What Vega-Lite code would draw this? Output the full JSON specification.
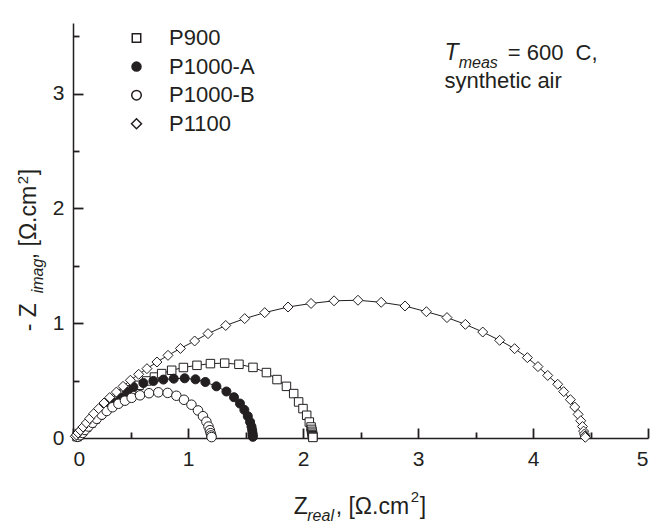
{
  "$schema": "https://vega.github.io/schema/vega-lite/v6.json",
  "width": 575,
  "height": 415,
  "autosize": "none",
  "padding": {"left": 73, "top": 23, "right": 6, "bottom": 85},
  "background": "white",
  "config": {"view": {"stroke": null}, "font": "Liberation Sans"},
  "resolve": {"axis": {"x": "independent", "y": "independent"}},
  "datasets": {
    "z": [
      {"s":"P900","x":0.035,"y":0.012},{"s":"P900","x":0.047,"y":0.024},{"s":"P900","x":0.06,"y":0.04},{"s":"P900","x":0.082,"y":0.061},{"s":"P900","x":0.119,"y":0.096},{"s":"P900","x":0.157,"y":0.13},{"s":"P900","x":0.191,"y":0.163},{"s":"P900","x":0.226,"y":0.198},{"s":"P900","x":0.264,"y":0.233},{"s":"P900","x":0.307,"y":0.27},{"s":"P900","x":0.351,"y":0.305},{"s":"P900","x":0.4,"y":0.343},{"s":"P900","x":0.452,"y":0.387},{"s":"P900","x":0.51,"y":0.421},{"s":"P900","x":0.574,"y":0.459},{"s":"P900","x":0.641,"y":0.497},{"s":"P900","x":0.708,"y":0.531},{"s":"P900","x":0.771,"y":0.561},{"s":"P900","x":0.858,"y":0.59},{"s":"P900","x":0.96,"y":0.614},{"s":"P900","x":1.078,"y":0.633},{"s":"P900","x":1.195,"y":0.648},{"s":"P900","x":1.319,"y":0.652},{"s":"P900","x":1.443,"y":0.642},{"s":"P900","x":1.565,"y":0.615},{"s":"P900","x":1.682,"y":0.57},{"s":"P900","x":1.774,"y":0.509},{"s":"P900","x":1.856,"y":0.45},{"s":"P900","x":1.919,"y":0.387},{"s":"P900","x":1.962,"y":0.314},{"s":"P900","x":2.0,"y":0.256},{"s":"P900","x":2.032,"y":0.198},{"s":"P900","x":2.055,"y":0.139},{"s":"P900","x":2.07,"y":0.096},{"s":"P900","x":2.074,"y":0.075},{"s":"P900","x":2.078,"y":0.058},{"s":"P900","x":2.08,"y":0.042},{"s":"P900","x":2.082,"y":0.03},{"s":"P900","x":2.084,"y":0.02},{"s":"P900","x":2.085,"y":0.012},{"s":"P900","x":2.086,"y":0.005},
      {"s":"P1000-A","x":0.035,"y":0.01},{"s":"P1000-A","x":0.055,"y":0.03},{"s":"P1000-A","x":0.08,"y":0.055},{"s":"P1000-A","x":0.105,"y":0.08},{"s":"P1000-A","x":0.135,"y":0.11},{"s":"P1000-A","x":0.17,"y":0.145},{"s":"P1000-A","x":0.21,"y":0.18},{"s":"P1000-A","x":0.255,"y":0.22},{"s":"P1000-A","x":0.305,"y":0.26},{"s":"P1000-A","x":0.36,"y":0.305},{"s":"P1000-A","x":0.415,"y":0.35},{"s":"P1000-A","x":0.47,"y":0.4},{"s":"P1000-A","x":0.525,"y":0.444},{"s":"P1000-A","x":0.612,"y":0.479},{"s":"P1000-A","x":0.699,"y":0.497},{"s":"P1000-A","x":0.786,"y":0.509},{"s":"P1000-A","x":0.876,"y":0.517},{"s":"P1000-A","x":0.971,"y":0.52},{"s":"P1000-A","x":1.065,"y":0.511},{"s":"P1000-A","x":1.151,"y":0.488},{"s":"P1000-A","x":1.247,"y":0.45},{"s":"P1000-A","x":1.334,"y":0.405},{"s":"P1000-A","x":1.4,"y":0.355},{"s":"P1000-A","x":1.452,"y":0.3},{"s":"P1000-A","x":1.49,"y":0.245},{"s":"P1000-A","x":1.52,"y":0.19},{"s":"P1000-A","x":1.54,"y":0.14},{"s":"P1000-A","x":1.552,"y":0.1},{"s":"P1000-A","x":1.558,"y":0.07},{"s":"P1000-A","x":1.561,"y":0.045},{"s":"P1000-A","x":1.563,"y":0.025},{"s":"P1000-A","x":1.564,"y":0.01},
      {"s":"P1000-B","x":0.04,"y":0.01},{"s":"P1000-B","x":0.061,"y":0.024},{"s":"P1000-B","x":0.082,"y":0.044},{"s":"P1000-B","x":0.104,"y":0.07},{"s":"P1000-B","x":0.134,"y":0.1},{"s":"P1000-B","x":0.169,"y":0.132},{"s":"P1000-B","x":0.206,"y":0.167},{"s":"P1000-B","x":0.25,"y":0.203},{"s":"P1000-B","x":0.293,"y":0.235},{"s":"P1000-B","x":0.343,"y":0.268},{"s":"P1000-B","x":0.395,"y":0.298},{"s":"P1000-B","x":0.452,"y":0.325},{"s":"P1000-B","x":0.51,"y":0.35},{"s":"P1000-B","x":0.583,"y":0.372},{"s":"P1000-B","x":0.661,"y":0.39},{"s":"P1000-B","x":0.742,"y":0.398},{"s":"P1000-B","x":0.823,"y":0.393},{"s":"P1000-B","x":0.899,"y":0.368},{"s":"P1000-B","x":0.965,"y":0.333},{"s":"P1000-B","x":1.03,"y":0.29},{"s":"P1000-B","x":1.087,"y":0.24},{"s":"P1000-B","x":1.13,"y":0.19},{"s":"P1000-B","x":1.16,"y":0.142},{"s":"P1000-B","x":1.178,"y":0.1},{"s":"P1000-B","x":1.19,"y":0.068},{"s":"P1000-B","x":1.197,"y":0.042},{"s":"P1000-B","x":1.202,"y":0.022},{"s":"P1000-B","x":1.205,"y":0.008},
      {"s":"P1100","x":0.02,"y":0.015},{"s":"P1100","x":0.03,"y":0.026},{"s":"P1100","x":0.044,"y":0.044},{"s":"P1100","x":0.064,"y":0.067},{"s":"P1100","x":0.087,"y":0.096},{"s":"P1100","x":0.116,"y":0.131},{"s":"P1100","x":0.145,"y":0.169},{"s":"P1100","x":0.18,"y":0.212},{"s":"P1100","x":0.223,"y":0.256},{"s":"P1100","x":0.27,"y":0.305},{"s":"P1100","x":0.319,"y":0.352},{"s":"P1100","x":0.377,"y":0.4},{"s":"P1100","x":0.435,"y":0.45},{"s":"P1100","x":0.499,"y":0.503},{"s":"P1100","x":0.571,"y":0.555},{"s":"P1100","x":0.643,"y":0.604},{"s":"P1100","x":0.73,"y":0.662},{"s":"P1100","x":0.826,"y":0.72},{"s":"P1100","x":0.934,"y":0.78},{"s":"P1100","x":1.058,"y":0.845},{"s":"P1100","x":1.174,"y":0.909},{"s":"P1100","x":1.328,"y":0.98},{"s":"P1100","x":1.493,"y":1.04},{"s":"P1100","x":1.667,"y":1.092},{"s":"P1100","x":1.87,"y":1.141},{"s":"P1100","x":2.07,"y":1.172},{"s":"P1100","x":2.27,"y":1.195},{"s":"P1100","x":2.478,"y":1.2},{"s":"P1100","x":2.68,"y":1.182},{"s":"P1100","x":2.887,"y":1.15},{"s":"P1100","x":3.073,"y":1.1},{"s":"P1100","x":3.252,"y":1.049},{"s":"P1100","x":3.412,"y":0.99},{"s":"P1100","x":3.563,"y":0.923},{"s":"P1100","x":3.71,"y":0.851},{"s":"P1100","x":3.84,"y":0.778},{"s":"P1100","x":3.951,"y":0.7},{"s":"P1100","x":4.043,"y":0.622},{"s":"P1100","x":4.128,"y":0.545},{"s":"P1100","x":4.215,"y":0.468},{"s":"P1100","x":4.267,"y":0.404},{"s":"P1100","x":4.325,"y":0.334},{"s":"P1100","x":4.363,"y":0.27},{"s":"P1100","x":4.392,"y":0.206},{"s":"P1100","x":4.415,"y":0.15},{"s":"P1100","x":4.43,"y":0.1},{"s":"P1100","x":4.44,"y":0.06},{"s":"P1100","x":4.447,"y":0.035},{"s":"P1100","x":4.452,"y":0.018},{"s":"P1100","x":4.455,"y":0.006}
    ]
  },
  "layer": [
    {
      "data": {"name": "z"},
      "mark": {"type": "line", "stroke": "#231f20", "strokeWidth": 1},
      "encoding": {
        "x": {"field": "x", "type": "quantitative", "scale": {"domain": [0, 5], "nice": false, "zero": false},
          "axis": {"orient": "bottom", "title": null, "grid": false, "values": [0,1,2,3,4,5],
            "format": "d", "ticks": true, "tickSize": -10,
            "labelPadding": 20, "labelFontSize": 21, "labelFont": "Liberation Sans", "labelColor": "#231f20",
            "domainColor": "#231f20", "domainWidth": 1.5, "tickColor": "#231f20", "tickWidth": 1.8}},
        "y": {"field": "y", "type": "quantitative", "scale": {"domain": [0, 3.615], "nice": false, "zero": false},
          "axis": {"orient": "left", "title": null, "grid": false, "values": [0,1,2,3],
            "format": "d", "ticks": true, "tickSize": -10,
            "labelPadding": 19, "labelFontSize": 21, "labelFont": "Liberation Sans", "labelColor": "#231f20",
            "domainColor": "#231f20", "domainWidth": 1.5, "tickColor": "#231f20", "tickWidth": 1.8}},
        "detail": {"field": "s"}
      }
    },
    {
      "data": {"name": "z"},
      "mark": {"type": "point", "filled": true, "stroke": "#231f20", "strokeWidth": 1, "opacity": 1},
      "encoding": {
        "x": {"field": "x", "type": "quantitative",
          "axis": {"orient": "bottom", "title": null, "grid": false, "values": [0.5,1.5,2.5,3.5,4.5], "labels": false, "domain": false,
            "ticks": true, "tickSize": -6, "tickColor": "#231f20", "tickWidth": 1.8}},
        "y": {"field": "y", "type": "quantitative",
          "axis": {"orient": "left", "title": null, "grid": false, "values": [0.5,1.5,2.5,3.5], "labels": false, "domain": false,
            "ticks": true, "tickSize": -6, "tickColor": "#231f20", "tickWidth": 1.8}},
        "shape": {"field": "s", "type": "nominal",
          "scale": {"domain": ["P900","P1000-A","P1000-B","P1100"], "range": ["square","circle","circle","diamond"]},
          "legend": {"orient": "none", "legendX": 52.5, "legendY": 4, "title": null, "padding": 0, "labelFontSize": 22, "labelFont": "Liberation Sans", "labelColor": "#231f20", "labelOffset": 21.5, "rowPadding": 6.6,
            "encode": {"symbols": {"update": {"stroke": {"value": "#231f20"}, "strokeWidth": {"value": 1}}}}}},
        "fill": {"field": "s", "type": "nominal",
          "scale": {"domain": ["P900","P1000-A","P1000-B","P1100"], "range": ["white","#231f20","white","white"]},
          "legend": {"orient": "none", "legendX": 52.5, "legendY": 4, "title": null, "padding": 0, "labelFontSize": 22, "labelFont": "Liberation Sans", "labelColor": "#231f20", "labelOffset": 21.5, "rowPadding": 6.6,
            "encode": {"symbols": {"update": {"stroke": {"value": "#231f20"}, "strokeWidth": {"value": 1}}}}}},
        "size": {"field": "s", "type": "nominal",
          "scale": {"domain": ["P900","P1000-A","P1000-B","P1100"], "range": [72,100,100,144]},
          "legend": {"orient": "none", "legendX": 52.5, "legendY": 4, "title": null, "padding": 0, "labelFontSize": 22, "labelFont": "Liberation Sans", "labelColor": "#231f20", "labelOffset": 21.5, "rowPadding": 6.6,
            "encode": {"symbols": {"update": {"stroke": {"value": "#231f20"}, "strokeWidth": {"value": 1}}}}}}
      }
    },
    {"data": {"values": [{}]}, "mark": {"type": "text", "text": "Z", "fontSize": 23, "align": "left", "baseline": "alphabetic", "color": "#231f20"},
     "encoding": {"x": {"datum": 1.919, "type": "quantitative", "axis": null}, "y": {"datum": -0.665, "type": "quantitative", "axis": null}}},
    {"data": {"values": [{}]}, "mark": {"type": "text", "text": "real", "fontSize": 16, "fontStyle": "italic", "align": "left", "baseline": "alphabetic", "color": "#231f20"},
     "encoding": {"x": {"datum": 2.037, "type": "quantitative", "axis": null}, "y": {"datum": -0.726, "type": "quantitative", "axis": null}}},
    {"data": {"values": [{}]}, "mark": {"type": "text", "text": ", [Ω.cm", "fontSize": 23, "align": "left", "baseline": "alphabetic", "color": "#231f20"},
     "encoding": {"x": {"datum": 2.284, "type": "quantitative", "axis": null}, "y": {"datum": -0.665, "type": "quantitative", "axis": null}}},
    {"data": {"values": [{}]}, "mark": {"type": "text", "text": "2", "fontSize": 15, "align": "left", "baseline": "alphabetic", "color": "#231f20"},
     "encoding": {"x": {"datum": 2.937, "type": "quantitative", "axis": null}, "y": {"datum": -0.56, "type": "quantitative", "axis": null}}},
    {"data": {"values": [{}]}, "mark": {"type": "text", "text": "]", "fontSize": 23, "align": "left", "baseline": "alphabetic", "color": "#231f20"},
     "encoding": {"x": {"datum": 3.015, "type": "quantitative", "axis": null}, "y": {"datum": -0.665, "type": "quantitative", "axis": null}}},
    {"data": {"values": [{}]}, "mark": {"type": "text", "text": "- Z", "fontSize": 23, "angle": 270, "align": "left", "baseline": "alphabetic", "color": "#231f20"},
     "encoding": {"x": {"datum": -0.318, "type": "quantitative", "axis": null}, "y": {"datum": 0.929, "type": "quantitative", "axis": null}}},
    {"data": {"values": [{}]}, "mark": {"type": "text", "text": "imag", "fontSize": 16, "fontStyle": "italic", "angle": 270, "align": "left", "baseline": "alphabetic", "color": "#231f20"},
     "encoding": {"x": {"datum": -0.261, "type": "quantitative", "axis": null}, "y": {"datum": 1.26, "type": "quantitative", "axis": null}}},
    {"data": {"values": [{}]}, "mark": {"type": "text", "text": ", [Ω.cm", "fontSize": 23, "angle": 270, "align": "left", "baseline": "alphabetic", "color": "#231f20"},
     "encoding": {"x": {"datum": -0.318, "type": "quantitative", "axis": null}, "y": {"datum": 1.557, "type": "quantitative", "axis": null}}},
    {"data": {"values": [{}]}, "mark": {"type": "text", "text": "2", "fontSize": 15, "angle": 270, "align": "left", "baseline": "alphabetic", "color": "#231f20"},
     "encoding": {"x": {"datum": -0.391, "type": "quantitative", "axis": null}, "y": {"datum": 2.21, "type": "quantitative", "axis": null}}},
    {"data": {"values": [{}]}, "mark": {"type": "text", "text": "]", "fontSize": 23, "angle": 270, "align": "left", "baseline": "alphabetic", "color": "#231f20"},
     "encoding": {"x": {"datum": -0.318, "type": "quantitative", "axis": null}, "y": {"datum": 2.288, "type": "quantitative", "axis": null}}},
    {"data": {"values": [{}]}, "mark": {"type": "text", "text": "T", "fontSize": 23, "fontStyle": "italic", "align": "left", "baseline": "alphabetic", "color": "#231f20"},
     "encoding": {"x": {"datum": 3.23, "type": "quantitative", "axis": null}, "y": {"datum": 3.296, "type": "quantitative", "axis": null}}},
    {"data": {"values": [{}]}, "mark": {"type": "text", "text": "meas", "fontSize": 16, "fontStyle": "italic", "align": "left", "baseline": "alphabetic", "color": "#231f20"},
     "encoding": {"x": {"datum": 3.354, "type": "quantitative", "axis": null}, "y": {"datum": 3.223, "type": "quantitative", "axis": null}}},
    {"data": {"values": [{}]}, "mark": {"type": "text", "text": "= 600\u00a0 C,", "fontSize": 22, "align": "left", "baseline": "alphabetic", "color": "#231f20"},
     "encoding": {"x": {"datum": 3.78, "type": "quantitative", "axis": null}, "y": {"datum": 3.296, "type": "quantitative", "axis": null}}},
    {"data": {"values": [{}]}, "mark": {"type": "text", "text": "synthetic air", "fontSize": 22, "align": "left", "baseline": "alphabetic", "color": "#231f20"},
     "encoding": {"x": {"datum": 3.23, "type": "quantitative", "axis": null}, "y": {"datum": 3.046, "type": "quantitative", "axis": null}}}
  ]
}
